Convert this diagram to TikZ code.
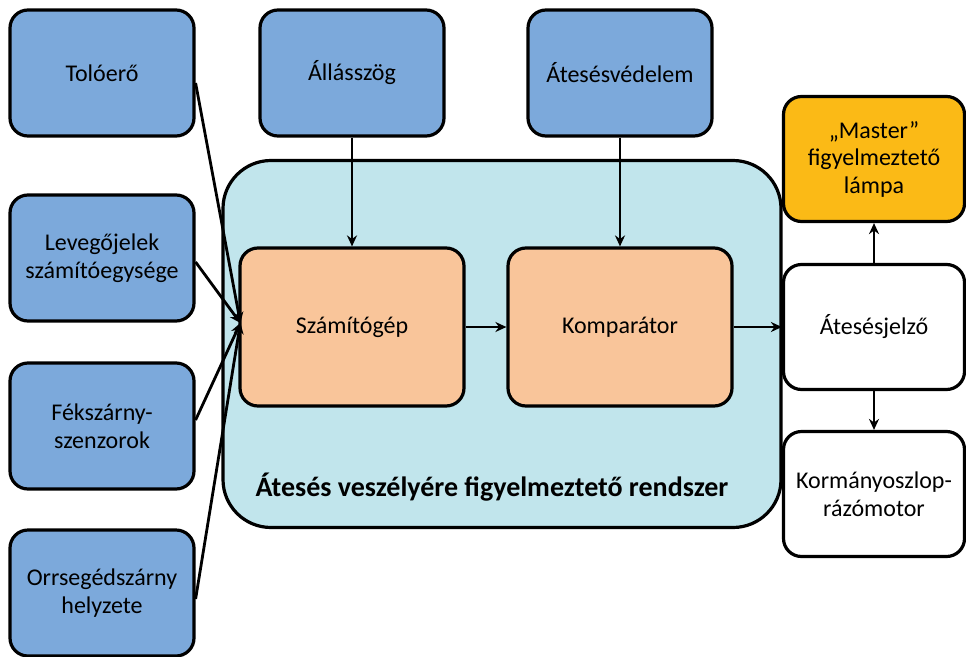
\documentclass[tikz,border=0pt]{standalone}
\usepackage{fontspec}
\setmainfont{Carlito}
\usetikzlibrary{positioning,arrows.meta,calc}

\definecolor{inblue}{HTML}{7CA9DB}
\definecolor{syscyan}{HTML}{C1E5EC}
\definecolor{unitorange}{HTML}{F9C59A}
\definecolor{lampyellow}{HTML}{FBBA16}

\begin{document}
\begin{tikzpicture}[
    x=1pt, y=-1pt,
    font=\fontsize{24}{27.5}\selectfont,
    box/.style={draw, line width=3.2pt, rounded corners=18pt, align=center,
                minimum width=184pt, minimum height=126pt, inner sep=2pt},
    inbox/.style={box, fill=inblue},
    unit/.style={box, fill=unitorange, minimum width=224pt, minimum height=158pt},
    outbox/.style={box, fill=white, minimum width=181pt, minimum height=125pt},
    op/.style={-{Stealth[length=11pt,width=10pt]}, line width=2.8pt},
  ]
  \useasboundingbox (0,0) rectangle (966,656);

  % --- system frame ---
  \node[draw, line width=3.2pt, fill=syscyan, rounded corners=48pt,
        minimum width=558pt, minimum height=367pt] (sys) at (502,344) {};
  \node[font=\fontsize{28}{30}\selectfont\bfseries] (syslbl) at (492,487)
    {Átesés veszélyére figyelmeztető rendszer};

  % --- inputs (left column) ---
  \node[inbox] (tolo) at (102,73) {Tolóerő};
  \node[inbox] (levego) at (102,258) {Levegőjelek\\számítóegysége};
  \node[inbox] (fek) at (102,426) {Fékszárny-\\szenzorok};
  \node[inbox] (orr) at (102,593) {Orrsegédszárny\\helyzete};

  % --- inputs (top row) ---
  \node[inbox] (allas) at (352,73) {Állásszög};
  \node[inbox] (vedelem) at (620,73) {Átesésvédelem};

  % --- processing ---
  \node[unit] (szg) at (352,327) {Számítógép};
  \node[unit] (komp) at (620,327) {Komparátor};

  % --- outputs (right column) ---
  \node[box, fill=lampyellow, minimum width=181pt, minimum height=125pt] (lampa)
    at (874,159) {„Master”\\figyelmeztető\\lámpa};
  \node[outbox] (jelzo) at (874,327) {Átesésjelző};
  \node[outbox] (motor) at (874,494) {Kormányoszlop-\\rázómotor};

  % --- connectors ---
  \coordinate (join) at ($(szg.west)+(2,-4)$);
  \draw[op] ($(tolo.east)+(0,10)$) -- (join);
  \draw[op] ($(levego.east)+(0,4)$) -- (join);
  \draw[op] ($(fek.east)+(0,-6)$) -- (join);
  \draw[op] ($(orr.east)+(0,6)$) -- (join);
  \draw[op] (allas) -- (szg);
  \draw[op] (vedelem) -- (komp);
  \draw[op] (szg) -- (komp);
  \draw[op] (komp) -- (jelzo);
  \draw[op] (jelzo) -- (lampa);
  \draw[op] (jelzo) -- (motor);
\end{tikzpicture}
\end{document}
